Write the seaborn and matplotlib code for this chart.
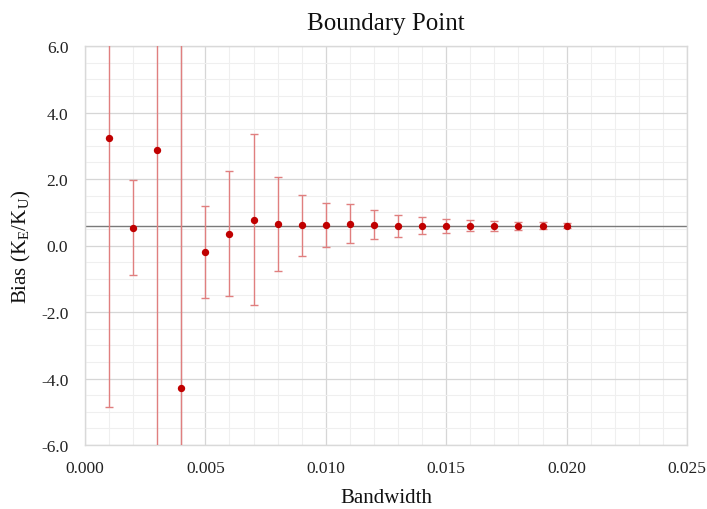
import numpy as np
import pandas as pd
import matplotlib
matplotlib.use("Agg")
import matplotlib.pyplot as plt
from matplotlib.ticker import MultipleLocator, FormatStrFormatter
import seaborn as sns

# Bias estimates at each bandwidth, with their symmetric error half-widths
bandwidth = [0.001, 0.002, 0.003, 0.004, 0.005, 0.006, 0.007, 0.008, 0.009, 0.010,
             0.011, 0.012, 0.013, 0.014, 0.015, 0.016, 0.017, 0.018, 0.019, 0.020]
bias = [3.23, 0.54, 2.87, -4.29, -0.19, 0.36, 0.78, 0.65, 0.61, 0.61,
        0.66, 0.63, 0.60, 0.60, 0.59, 0.60, 0.60, 0.60, 0.60, 0.60]
error = [8.10, 1.43, 10.0, 12.0, 1.38, 1.88, 2.56, 1.41, 0.92, 0.67,
         0.58, 0.43, 0.33, 0.26, 0.20, 0.17, 0.15, 0.12, 0.10, 0.08]
true_value = 0.6
marked_bandwidth = 0.004

df = pd.DataFrame({"Bandwidth": bandwidth, "Bias": bias, "err": error})

sns.set_theme(style="white")
plt.rcParams["font.family"] = ["Liberation Serif", "DejaVu Serif"]
plt.rcParams["mathtext.fontset"] = "custom"
plt.rcParams["mathtext.rm"] = "Liberation Serif"
plt.rcParams["mathtext.it"] = "Liberation Serif:italic"

fig = plt.figure(figsize=(7.07, 5.10), dpi=100)
ax = fig.add_axes([85 / 707, 1 - 446 / 510, (687 - 85) / 707, (446 - 47) / 510])

ax.set_xlim(0, 0.025)
ax.set_ylim(-6, 6)
ax.xaxis.set_major_locator(MultipleLocator(0.005))
ax.xaxis.set_minor_locator(MultipleLocator(0.001))
ax.yaxis.set_major_locator(MultipleLocator(2.0))
ax.yaxis.set_minor_locator(MultipleLocator(0.5))
ax.xaxis.set_major_formatter(FormatStrFormatter("%.3f"))
ax.yaxis.set_major_formatter(FormatStrFormatter("%.1f"))

ax.grid(which="major", color="#d6d6d6", linewidth=0.9)
ax.grid(which="minor", color="#efefef", linewidth=0.8)
ax.set_axisbelow(True)
for s in ax.spines.values():
    s.set_color("#d9d9d9")
    s.set_linewidth(1.0)
ax.tick_params(axis="x", which="both", length=0, labelsize=12.5, colors="#222222", pad=11)
ax.tick_params(axis="y", which="both", length=0, labelsize=12.5, colors="#222222", pad=12)

# Reference lines: true bias and the marked bandwidth
ax.axhline(true_value, color="#7a7a7a", linewidth=1.0, zorder=2)
ax.axvline(marked_bandwidth, color="#6a5050", linewidth=0.8, zorder=2)

ax.errorbar(df["Bandwidth"], df["Bias"], yerr=df["err"], fmt="none",
            ecolor="#e07f7f", elinewidth=1.0, capsize=3, capthick=1.0, zorder=3)
sns.scatterplot(data=df, x="Bandwidth", y="Bias", ax=ax, color="#c00000",
                s=28, edgecolor="#c00000", linewidth=0, zorder=4)

ax.set_title("Boundary Point", fontsize=18, pad=12, color="#111111")
ax.set_xlabel("Bandwidth", fontsize=15, color="#111111")
ax.set_ylabel(r"Bias (K$_{\mathrm{E}}$/K$_{\mathrm{U}}$)", fontsize=15, color="#111111")
ax.xaxis.set_label_coords(0.5, -0.108)
ax.yaxis.set_label_coords(-0.087, 0.5)

fig.savefig("out.png", dpi=100)
